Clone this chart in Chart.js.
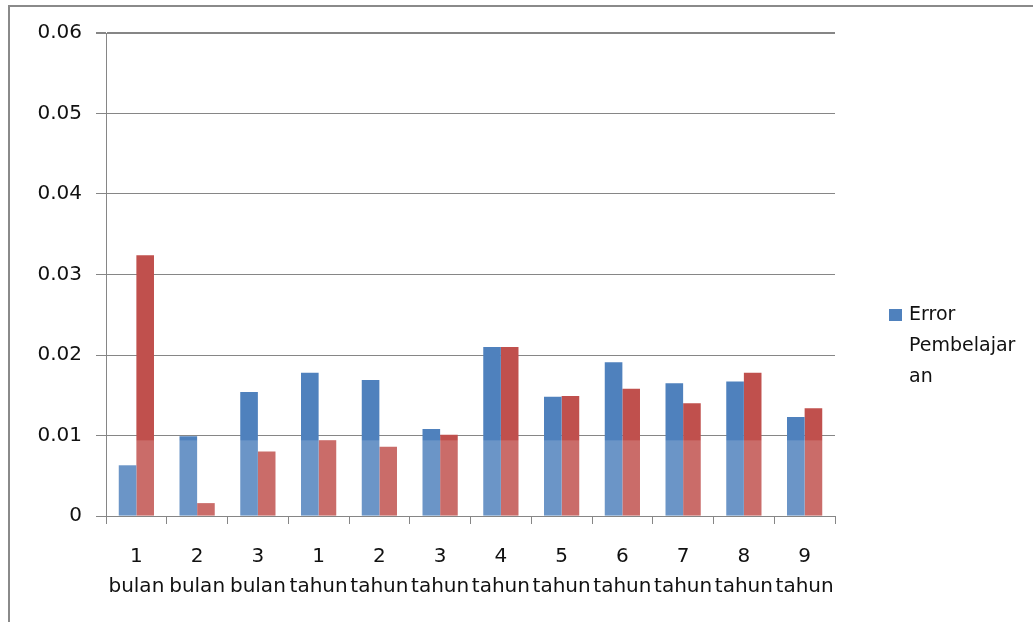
<!DOCTYPE html>
<html>
<head>
<meta charset="utf-8">
<script src="https://cdn.jsdelivr.net/npm/chart.js@4/dist/chart.umd.min.js"></script>
<style>
  html, body { margin: 0; padding: 0; background: #ffffff; }
  #wrap { position: relative; width: 1033px; height: 622px; }
</style>
</head>
<body>
<div id="wrap"><canvas id="c" width="1033" height="622"></canvas></div>
<script>
// Periods of the forecast horizon (two-line category labels)
const categories = [
  ['1', 'bulan'], ['2', 'bulan'], ['3', 'bulan'],
  ['1', 'tahun'], ['2', 'tahun'], ['3', 'tahun'], ['4', 'tahun'],
  ['5', 'tahun'], ['6', 'tahun'], ['7', 'tahun'], ['8', 'tahun'], ['9', 'tahun']
];

// Training error per period
const errorPembelajaran = [0.0063, 0.0099, 0.0154, 0.0178, 0.0169, 0.0108, 0.0210, 0.0148, 0.0191, 0.0165, 0.0167, 0.0123];
// Test error per period
const errorPengujian = [0.0324, 0.0016, 0.0080, 0.0094, 0.0086, 0.0101, 0.0210, 0.0149, 0.0158, 0.0140, 0.0178, 0.0134];

// Y axis range and step
const yTicks = [0, 0.01, 0.02, 0.03, 0.04, 0.05, 0.06];

// Legend text, broken over lines as in the legend column
const legendLines = ['Error', 'Pembelajar', 'an'];

const BLUE = '#4F81BD';
const RED = '#C0504D';
const GRID = '#868686';
const FONT = 'DejaVu Sans';

// Frame around the chart object
const framePlugin = {
  id: 'frame',
  beforeDraw(chart) {
    const ctx = chart.ctx;
    ctx.save();
    ctx.fillStyle = '#ffffff';
    ctx.fillRect(0, 0, chart.width, chart.height);
    ctx.fillStyle = '#8a8a8a';
    ctx.fillRect(8, 5, chart.width - 8, 2);
    ctx.fillRect(8, 5, 2, chart.height - 5);
    ctx.restore();
  }
};

// Faint lighter band over the lower part of the plot
const hazePlugin = {
  id: 'haze',
  afterDatasetsDraw(chart) {
    const { ctx, chartArea } = chart;
    const y = chart.scales.y;
    const top = y.getPixelForValue(0.0094);
    ctx.save();
    ctx.fillStyle = 'rgba(255,255,255,0.16)';
    ctx.fillRect(chartArea.left + 1, top, chartArea.right - chartArea.left - 1, y.getPixelForValue(0) - top - 1);
    ctx.restore();
  }
};

// Legend drawn as a wrapped text column to the right of the plot
const sideLegendPlugin = {
  id: 'sideLegend',
  afterDraw(chart) {
    const ctx = chart.ctx;
    const ds = chart.data.datasets[0];
    const x0 = chart.chartArea.right + 54;
    const y0 = 315;
    ctx.save();
    ctx.fillStyle = ds.backgroundColor;
    ctx.fillRect(x0, y0 - 6, 13, 12);
    ctx.fillStyle = '#111111';
    ctx.font = '19px "' + FONT + '"';
    ctx.textBaseline = 'middle';
    ctx.textAlign = 'left';
    legendLines.forEach((t, i) => ctx.fillText(t, x0 + 20, y0 + i * 31));
    ctx.restore();
  }
};

new Chart(document.getElementById('c'), {
  type: 'bar',
  data: {
    labels: categories,
    datasets: [
      { label: 'Error Pembelajaran', data: errorPembelajaran, backgroundColor: BLUE, borderWidth: 0, borderSkipped: false },
      { label: 'Error Pengujian', data: errorPengujian, backgroundColor: RED, borderWidth: 0, borderSkipped: false }
    ]
  },
  options: {
    responsive: false,
    animation: false,
    devicePixelRatio: 1,
    layout: { padding: { left: 0, top: 33, right: 198, bottom: 0 } },
    datasets: { bar: { categoryPercentage: 0.58, barPercentage: 1.0 } },
    plugins: {
      legend: { display: false },
      tooltip: { enabled: false }
    },
    scales: {
      x: {
        afterFit(scale) { scale.height = 106; },
        grid: {
          display: true,
          drawOnChartArea: false,
          drawTicks: true,
          tickLength: 8,
          color: GRID,
          offset: true
        },
        border: { display: true, color: GRID, width: 1 },
        ticks: {
          color: '#111111',
          font: { family: FONT, size: 20, lineHeight: 1.5 },
          padding: 18,
          maxRotation: 0,
          autoSkip: false
        }
      },
      y: {
        min: yTicks[0],
        max: yTicks[yTicks.length - 1],
        afterFit(scale) { scale.width = 106; },
        afterBuildTicks(scale) { scale.ticks = yTicks.map(v => ({ value: v })); },
        grid: {
          color: GRID,
          lineWidth: ctx => (ctx.tick && ctx.tick.value === yTicks[yTicks.length - 1] ? 2 : 1),
          drawTicks: true,
          tickLength: 10
        },
        border: { display: true, color: GRID, width: 1 },
        ticks: {
          color: '#111111',
          font: { family: FONT, size: 20 },
          padding: 14,
          callback: v => (v === 0 ? '0' : Number(v).toFixed(2))
        }
      }
    }
  },
  plugins: [framePlugin, hazePlugin, sideLegendPlugin]
});
</script>
</body>
</html>
